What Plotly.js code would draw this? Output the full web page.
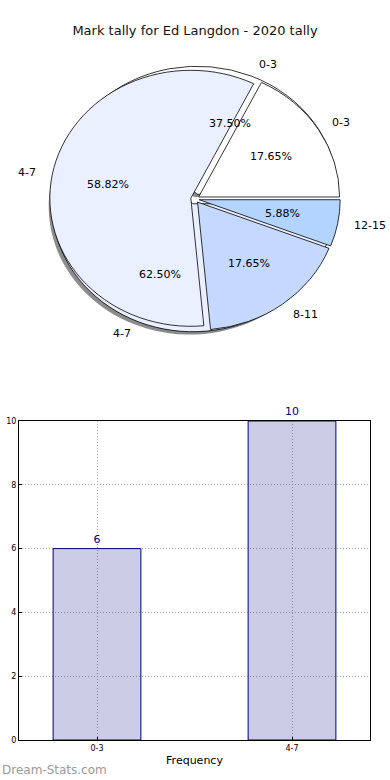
<!DOCTYPE html>
<html><head><meta charset="utf-8">
<script src="https://cdn.plot.ly/plotly-3.0.1.min.js"></script>
<style>html,body{margin:0;padding:0;background:#fff}#chart{width:390px;height:780px}</style>
</head><body><div id="chart"></div>
<script>
// ---- data ----
const chartTitle = 'Mark tally for Ed Langdon - 2020 tally';
const outerLabels = ['0-3', '4-7'];
const outerValues = [6, 10];
const innerLabels = ['0-3', '4-7', '8-11', '12-15'];
const innerValues = [3, 10, 3, 1];
const barCategories = ['0-3', '4-7'];
const barValues = [6, 10];
const yTickValues = [0, 2, 4, 6, 8, 10];

// ---- geometry / style constants ----
const W = 390, H = 780;
const CX = 195, CY = 199;          // pie centre in px
const R = 135;                      // base pie radius (px)
const RX = 141, RY = 128;           // elliptical look of the reference
const outerPull = [0.04, 0.04];
const innerPull = [0.03, 0.03, 0.03, 0.03];
const outerColors = ['#ffffff', '#eaf0ff'];
const innerColors = ['#ffffff', '#eaf0ff', '#c5d8ff', '#b3d4ff'];
const FONT = 'DejaVu Sans, sans-serif';

function pieDomain(cx, cy, pulls) {
  const half = R * (1 + Math.max.apply(null, pulls));
  return { x: [(cx - half) / W, (cx + half) / W], y: [1 - (cy + half) / H, 1 - (cy - half) / H] };
}

function pieTrace(labels, values, colors, pulls, dom, lineW) {
  const total = values.reduce((a, b) => a + b, 0);
  // plotly keeps the first slice where a clockwise pie would put it, so shift
  // the rotation to make the first slice start at 3 o'clock going counterclockwise
  const rot = 90 - 360 * values[0] / total;
  return {
    type: 'pie', labels: labels, values: values, sort: false,
    direction: 'counterclockwise', rotation: rot, pull: pulls,
    marker: { colors: colors, line: { color: '#000', width: lineW } },
    textinfo: 'none', hoverinfo: 'skip', showlegend: false, domain: dom
  };
}

// label annotations placed the way matplotlib does (label at 1.1 r, pct at 0.6 r)
function pieAnnotations(labels, values, pulls) {
  const total = values.reduce((a, b) => a + b, 0);
  const out = [];
  let cum = 0;
  values.forEach((v, i) => {
    const mid = (cum + v / 2) / total * 2 * Math.PI;
    cum += v;
    const c = Math.cos(mid), s = Math.sin(mid);
    const ox = pulls[i] * RX * c, oy = pulls[i] * RY * s;
    const lx = CX + ox + 1.1 * RX * c, ly = CY - oy - 1.1 * RY * s;
    out.push({ x: lx / W, y: 1 - ly / H, xref: 'paper', yref: 'paper', text: labels[i],
      showarrow: false, xanchor: c > 0 ? 'left' : 'right', yanchor: 'middle',
      font: { family: FONT, size: 11, color: '#000' } });
    const px = CX + ox + 0.6 * RX * c, py = CY - oy - 0.6 * RY * s;
    out.push({ x: px / W, y: 1 - py / H, xref: 'paper', yref: 'paper',
      text: (v / total * 100).toFixed(2) + '%', showarrow: false,
      xanchor: 'center', yanchor: 'middle', font: { family: FONT, size: 11, color: '#000' } });
  });
  return out;
}

const shadow = pieTrace(outerLabels, outerValues, outerValues.map(() => 'rgba(0,0,0,0.45)'),
  outerPull, pieDomain(CX - 3, CY + 3, outerPull), 0);
const outerPie = pieTrace(outerLabels, outerValues, outerColors, outerPull, pieDomain(CX, CY, outerPull), 0.8);
const innerPie = pieTrace(innerLabels, innerValues, innerColors, innerPull, pieDomain(CX, CY, innerPull), 0.8);

const bars = {
  type: 'bar', x: barCategories.map((c, i) => i), y: barValues, width: 0.45,
  marker: { color: 'rgba(0,0,128,0.2)', line: { color: '#000080', width: 1 } },
  text: barValues.map(String), textposition: 'outside', cliponaxis: false,
  textfont: { family: FONT, size: 11, color: '#000080' },
  hoverinfo: 'skip', showlegend: false, xaxis: 'x', yaxis: 'y'
};

const axisCommon = {
  showgrid: true, gridcolor: '#a8a8a8', griddash: '1px,2px', gridwidth: 1,
  showline: true, mirror: true, linecolor: '#000', linewidth: 1,
  ticks: 'inside', ticklen: 3, tickcolor: '#000', zeroline: false,
  tickfont: { family: FONT, size: 8, color: '#000' }, fixedrange: true
};

const layout = {
  width: W, height: H, margin: { l: 0, r: 0, t: 0, b: 0 },
  paper_bgcolor: '#fff', plot_bgcolor: '#fff',
  title: { text: chartTitle, x: 0.5, xanchor: 'center', y: 1 - 30 / H, yanchor: 'middle',
    font: { family: FONT, size: 13, color: '#111' } },
  xaxis: Object.assign({}, axisCommon, {
    domain: [19 / W, 370 / W], range: [-0.4, 1.4], tickvals: barCategories.map((c, i) => i),
    ticktext: barCategories, anchor: 'y',
    title: { text: 'Frequency', font: { family: FONT, size: 11, color: '#000' }, standoff: 4 }
  }),
  yaxis: Object.assign({}, axisCommon, {
    domain: [1 - 740 / H, 1 - 421 / H], range: [0, 10], tickvals: yTickValues, anchor: 'x'
  }),
  annotations: pieAnnotations(outerLabels, outerValues, outerPull)
    .concat(pieAnnotations(innerLabels, innerValues, innerPull))
    .concat([{ x: 0, y: 1 - 770 / H, xref: 'paper', yref: 'paper', text: 'Dream-Stats.com',
      showarrow: false, xanchor: 'left', yanchor: 'middle',
      font: { family: FONT, size: 12, color: '#9a9a9a' } }])
};

Plotly.newPlot('chart', [shadow, outerPie, innerPie, bars], layout, { displayModeBar: false, staticPlot: true })
  .then(() => {
    const g = document.querySelector('#chart .pielayer');
    if (g) g.setAttribute('transform',
      'translate(' + CX + ',' + CY + ') scale(' + (RX / R) + ',' + (RY / R) + ') translate(' + (-CX) + ',' + (-CY) + ')');
  });
</script>
</body></html>
